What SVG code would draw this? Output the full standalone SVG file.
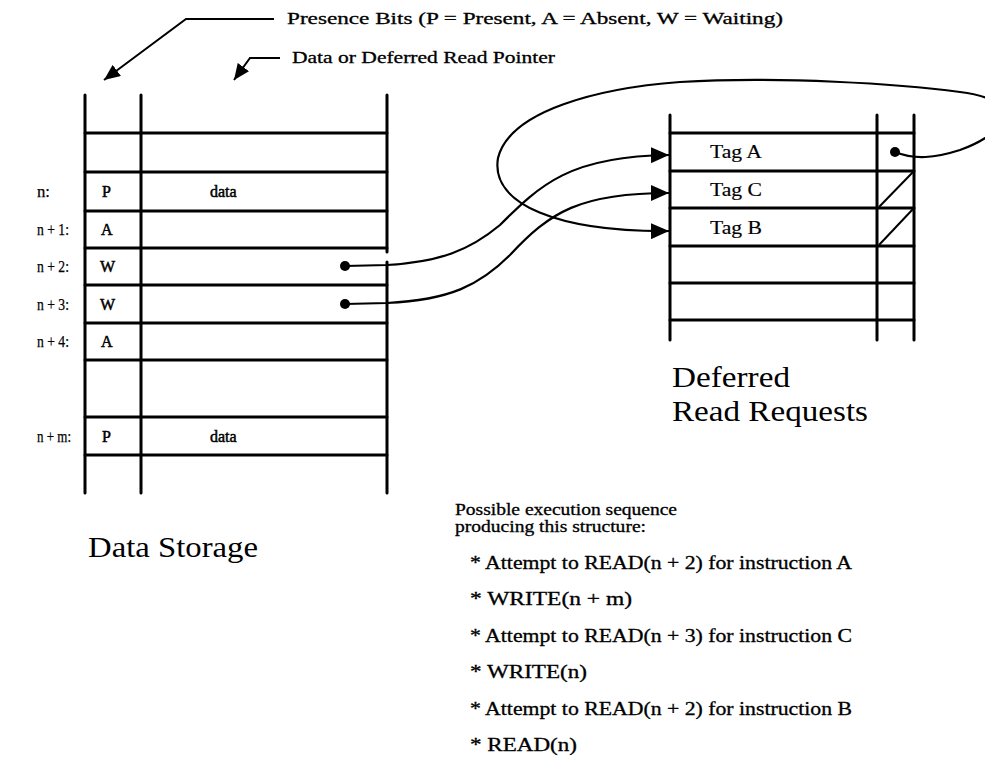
<svg xmlns="http://www.w3.org/2000/svg" width="985" height="762" viewBox="0 0 985 762">
<style>
  text { font-family: "Liberation Serif", "Times New Roman", serif; fill: #000; }
  .lbl { font-size: 17px; stroke: #000; stroke-width: 0.3; }
  .row { font-size: 17px; stroke: #000; stroke-width: 0.25; }
  .cell { font-size: 16px; stroke: #000; stroke-width: 0.5; }
  .tag { font-size: 18px; stroke: #000; stroke-width: 0.15; }
  .title { font-size: 29px; }
  .note { font-size: 16px; stroke: #000; stroke-width: 0.3; }
  .bul { font-size: 18px; stroke: #000; stroke-width: 0.3; }
  .grid { stroke: #000; stroke-width: 3; fill: none; stroke-linecap: round; }
  .thin { stroke: #000; stroke-width: 2; fill: none; }
  .conn { stroke: #000; stroke-width: 2.2; fill: none; }
</style>
<defs>
  <marker id="tri" viewBox="0 0 18 16" refX="18" refY="8" markerWidth="18" markerHeight="16" markerUnits="userSpaceOnUse" orient="auto">
    <path d="M0,0 L18,8 L0,16 Z" fill="#000"/>
  </marker>
  <marker id="tri2" viewBox="0 0 16 14" refX="16" refY="7" markerWidth="16" markerHeight="14" markerUnits="userSpaceOnUse" orient="auto">
    <path d="M0,0 L16,7 L0,14 Z" fill="#000"/>
  </marker>
</defs>

<g id="legend">
  <text class="lbl" x="287" y="24" textLength="496" lengthAdjust="spacingAndGlyphs">Presence Bits (P = Present, A = Absent, W = Waiting)</text>
  <text class="lbl" x="292" y="63" textLength="263" lengthAdjust="spacingAndGlyphs">Data or Deferred Read Pointer</text>
  <polyline class="thin" points="274,19 186,19 104,80" marker-end="url(#tri2)"/>
  <polyline class="thin" points="280,58 250,58 234,80" marker-end="url(#tri2)"/>
</g>

<g id="data-storage">
  <line class="grid" x1="85" y1="95" x2="85" y2="493"/>
  <line class="grid" x1="141" y1="95" x2="141" y2="493"/>
  <line class="grid" x1="387" y1="95" x2="387" y2="252"/>
  <line class="grid" x1="387" y1="262" x2="387" y2="493"/>
  <line class="grid" x1="85" y1="133" x2="387" y2="133"/>
  <line class="grid" x1="85" y1="172" x2="387" y2="172"/>
  <line class="grid" x1="85" y1="211" x2="387" y2="211"/>
  <line class="grid" x1="85" y1="248" x2="387" y2="248"/>
  <line class="grid" x1="85" y1="285" x2="387" y2="285"/>
  <line class="grid" x1="85" y1="323" x2="387" y2="323"/>
  <line class="grid" x1="85" y1="360" x2="387" y2="360"/>
  <line class="grid" x1="85" y1="417" x2="387" y2="417"/>
  <line class="grid" x1="85" y1="455" x2="387" y2="455"/>
  <text class="row" x="37" y="197" textLength="13" lengthAdjust="spacingAndGlyphs">n:</text>
  <text class="row" x="37" y="235" textLength="32" lengthAdjust="spacingAndGlyphs">n + 1:</text>
  <text class="row" x="37" y="272" textLength="32" lengthAdjust="spacingAndGlyphs">n + 2:</text>
  <text class="row" x="37" y="310" textLength="32" lengthAdjust="spacingAndGlyphs">n + 3:</text>
  <text class="row" x="37" y="347" textLength="32" lengthAdjust="spacingAndGlyphs">n + 4:</text>
  <text class="row" x="37" y="442" textLength="34" lengthAdjust="spacingAndGlyphs">n + m:</text>
  <text class="cell" x="102" y="197">P</text>
  <text class="cell" x="101" y="235">A</text>
  <text class="cell" x="100" y="272">W</text>
  <text class="cell" x="100" y="310">W</text>
  <text class="cell" x="101" y="347">A</text>
  <text class="cell" x="102" y="442">P</text>
  <text class="cell" x="210" y="197">data</text>
  <text class="cell" x="210" y="442">data</text>
  <circle cx="345" cy="266" r="5" fill="#000"/>
  <circle cx="345" cy="304" r="5" fill="#000"/>
  <text class="title" x="88" y="557" textLength="170" lengthAdjust="spacingAndGlyphs">Data Storage</text>
</g>

<g id="deferred-read-requests">
  <line class="grid" x1="670" y1="115" x2="670" y2="340"/>
  <line class="grid" x1="877" y1="115" x2="877" y2="340"/>
  <line class="grid" x1="914" y1="115" x2="914" y2="340"/>
  <line class="grid" x1="670" y1="133" x2="914" y2="133"/>
  <line class="grid" x1="670" y1="171" x2="914" y2="171"/>
  <line class="grid" x1="670" y1="208" x2="914" y2="208"/>
  <line class="grid" x1="670" y1="246" x2="914" y2="246"/>
  <line class="grid" x1="670" y1="283" x2="914" y2="283"/>
  <line class="grid" x1="670" y1="320" x2="914" y2="320"/>
  <line class="thin" x1="879" y1="207" x2="913" y2="172"/>
  <line class="thin" x1="879" y1="245" x2="913" y2="209"/>
  <text class="tag" x="710" y="158" textLength="52" lengthAdjust="spacingAndGlyphs">Tag A</text>
  <text class="tag" x="710" y="196" textLength="52" lengthAdjust="spacingAndGlyphs">Tag C</text>
  <text class="tag" x="710" y="234" textLength="52" lengthAdjust="spacingAndGlyphs">Tag B</text>
  <circle cx="895" cy="152" r="5" fill="#000"/>
  <text class="title" x="672" y="387" textLength="118" lengthAdjust="spacingAndGlyphs">Deferred</text>
  <text class="title" x="672" y="421" textLength="196" lengthAdjust="spacingAndGlyphs">Read Requests</text>
</g>

<g id="connectors">
  <path class="conn" d="M345,266 L387,265 C440,262 470,250 500,225 C540,185 570,156 669,155" marker-end="url(#tri)"/>
  <path class="conn" d="M345,304 L387,303 C450,300 480,285 510,255 C550,212 580,193 669,193" marker-end="url(#tri)"/>
  <path class="conn" d="M895,152 C915,160 935,158 960,150 C1010,132 1025,100 960,92 C900,84 780,76 680,82 C600,88 510,110 498,158 C490,205 560,232 669,231" marker-end="url(#tri)"/>
</g>

<g id="sequence">
  <text class="note" x="455" y="515" textLength="222" lengthAdjust="spacingAndGlyphs">Possible execution sequence</text>
  <text class="note" x="455" y="532" textLength="191" lengthAdjust="spacingAndGlyphs">producing this structure:</text>
  <text class="bul" x="470" y="569" textLength="382" lengthAdjust="spacingAndGlyphs">* Attempt to READ(n + 2) for instruction A</text>
  <text class="bul" x="470" y="605" textLength="162" lengthAdjust="spacingAndGlyphs">* WRITE(n + m)</text>
  <text class="bul" x="470" y="642" textLength="382" lengthAdjust="spacingAndGlyphs">* Attempt to READ(n + 3) for instruction C</text>
  <text class="bul" x="470" y="678" textLength="117" lengthAdjust="spacingAndGlyphs">* WRITE(n)</text>
  <text class="bul" x="470" y="715" textLength="382" lengthAdjust="spacingAndGlyphs">* Attempt to READ(n + 2) for instruction B</text>
  <text class="bul" x="470" y="751" textLength="107" lengthAdjust="spacingAndGlyphs">* READ(n)</text>
</g>
</svg>
